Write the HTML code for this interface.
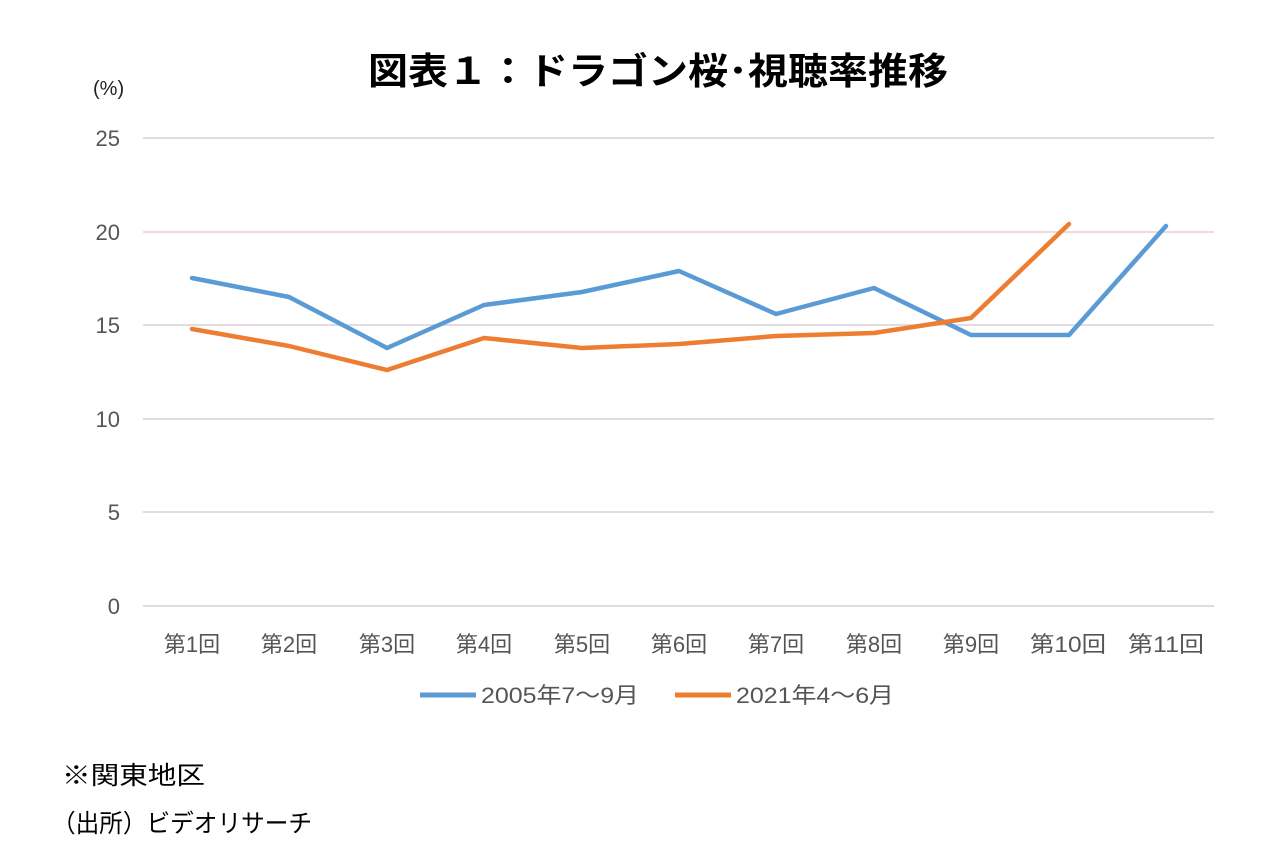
<!DOCTYPE html>
<html><head><meta charset="utf-8"><style>
body{margin:0;background:#fff;width:1265px;height:847px;overflow:hidden}
svg{display:block}
</style></head><body>
<svg width="1265" height="847" xmlns="http://www.w3.org/2000/svg" font-family="Liberation Sans, Noto Sans CJK JP, sans-serif">
<rect width="1265" height="847" fill="#fff"/>
<text x="368" y="84" font-size="37" font-weight="bold" fill="#000" textLength="580" lengthAdjust="spacingAndGlyphs">図表１：ドラゴン桜･視聴率推移</text>
<text x="93" y="95" font-size="20" fill="#222">(%)</text>
<g stroke="#cfd4cf" stroke-width="1.5">
<line x1="143" y1="138" x2="1214" y2="138"/>
<line x1="143" y1="232" x2="1214" y2="232" stroke="#e8d0d0"/>
<line x1="143" y1="325" x2="1214" y2="325" stroke="#dcd0dc"/>
<line x1="143" y1="419" x2="1214" y2="419"/>
<line x1="143" y1="512" x2="1214" y2="512"/>
<line x1="143" y1="606" x2="1214" y2="606"/>
</g>
<g font-size="22" fill="#555" text-anchor="end">
<text x="120" y="146">25</text><text x="120" y="240">20</text><text x="120" y="333">15</text>
<text x="120" y="427">10</text><text x="120" y="520">5</text><text x="120" y="614">0</text>
</g>
<g font-size="22" fill="#555" text-anchor="middle">
<text x="192" y="652">第1回</text><text x="289" y="652">第2回</text><text x="387" y="652">第3回</text>
<text x="484" y="652">第4回</text><text x="582" y="652">第5回</text><text x="679" y="652">第6回</text>
<text x="776" y="652">第7回</text><text x="874" y="652">第8回</text><text x="971" y="652">第9回</text>
<text x="1068" y="652" textLength="76" lengthAdjust="spacingAndGlyphs">第10回</text><text x="1166" y="652" textLength="76" lengthAdjust="spacingAndGlyphs">第11回</text>
</g>
<polyline fill="none" stroke="#5b9bd5" stroke-width="4.5" stroke-linejoin="round" stroke-linecap="round"
points="192,278 289,297 387,348 484,305 582,292 679,271 776,314 874,288 971,335 1069,335 1166,226"/>
<polyline fill="none" stroke="#ed7d31" stroke-width="4.5" stroke-linejoin="round" stroke-linecap="round"
points="192,329 289,346 387,370 484,338 582,348 679,344 776,336 874,333 971,318 1069,224"/>
<line x1="420" y1="695" x2="476" y2="695" stroke="#5b9bd5" stroke-width="5"/>
<text x="481" y="703" font-size="22" fill="#555" textLength="158" lengthAdjust="spacingAndGlyphs">2005年7～9月</text>
<line x1="675" y1="695" x2="731" y2="695" stroke="#ed7d31" stroke-width="5"/>
<text x="736" y="703" font-size="22" fill="#555" textLength="158" lengthAdjust="spacingAndGlyphs">2021年4～6月</text>
<text x="62" y="784" font-size="25" fill="#000" textLength="143" lengthAdjust="spacingAndGlyphs">※関東地区</text>
<text x="52" y="832" font-size="25" fill="#000" textLength="260" lengthAdjust="spacingAndGlyphs">（出所）ビデオリサーチ</text>
</svg>
</body></html>
